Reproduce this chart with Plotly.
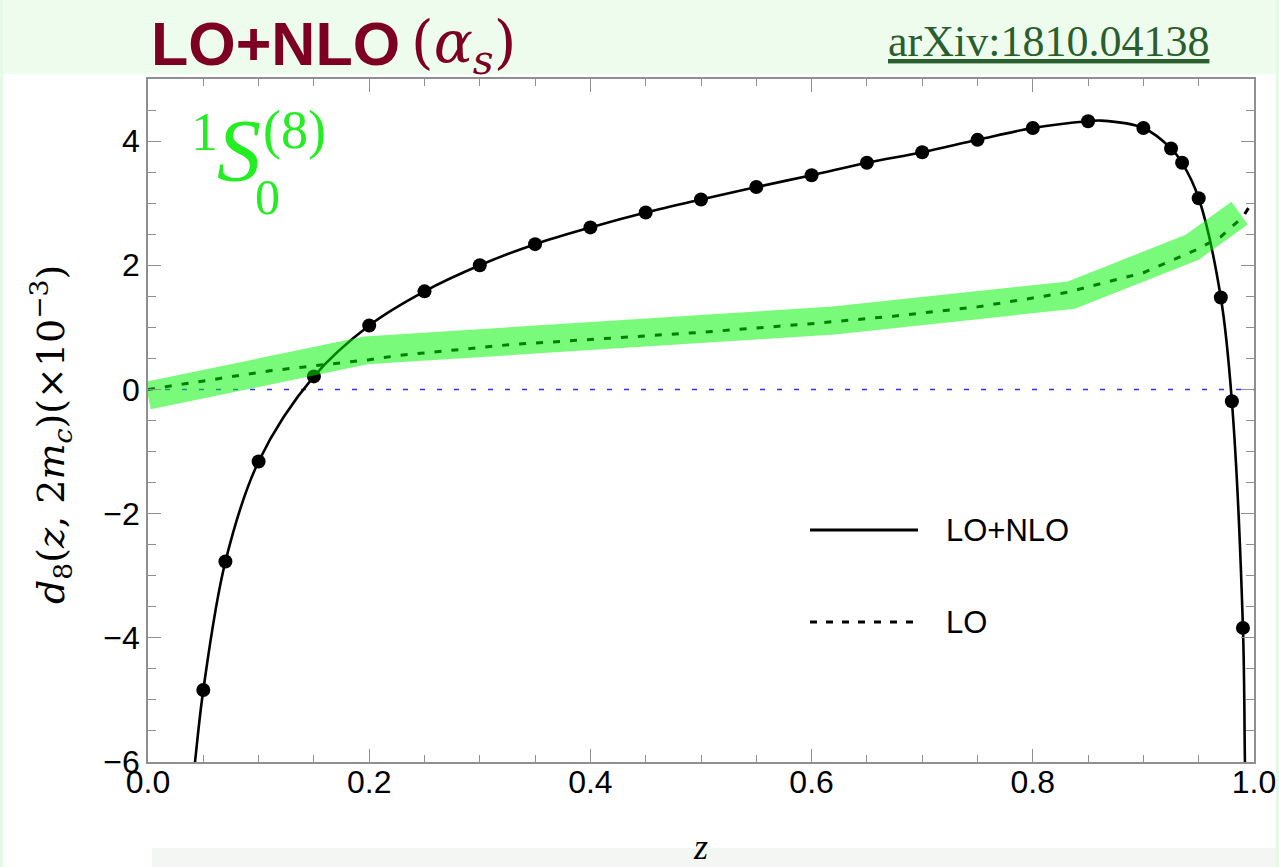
import plotly.graph_objects as go

# ---- data ----
z_nlo = [0.05, 0.07, 0.10, 0.15, 0.20, 0.25, 0.30, 0.35, 0.40, 0.45, 0.50, 0.55,
         0.60, 0.65, 0.70, 0.75, 0.80, 0.85, 0.90, 0.925, 0.935, 0.95, 0.97, 0.98, 0.99]
d_nlo = [-4.84, -2.77, -1.16, 0.21, 1.03, 1.58, 2.00, 2.34, 2.61, 2.85, 3.06, 3.26,
         3.45, 3.65, 3.82, 4.02, 4.21, 4.32, 4.21, 3.88, 3.65, 3.08, 1.48, -0.19, -3.84]

# smooth LO+NLO curve (includes where it leaves the frame)
curve_z = [0.040, 0.0425, 0.05, 0.07, 0.10, 0.15, 0.20, 0.25, 0.30, 0.35, 0.40, 0.45, 0.50,
           0.55, 0.60, 0.65, 0.70, 0.75, 0.80, 0.85, 0.862, 0.90, 0.925, 0.935, 0.95,
           0.97, 0.98, 0.99, 0.9918, 0.9925]
curve_d = [-6.40, -6.00, -4.84, -2.77, -1.16, 0.21, 1.03, 1.58, 2.00, 2.34, 2.61, 2.85, 3.06,
           3.26, 3.45, 3.65, 3.82, 4.02, 4.21, 4.32, 4.33, 4.21, 3.88, 3.65, 3.08,
           1.48, -0.19, -3.84, -6.00, -6.60]

# LO curve (dashed)
z_lo = [0.0, 0.11, 0.20, 0.228, 0.326, 0.40, 0.50, 0.60, 0.674, 0.75, 0.83, 0.90, 0.949, 0.97, 0.99, 0.996]
d_lo = [0.0, 0.30, 0.48, 0.55, 0.72, 0.80, 0.92, 1.06, 1.18, 1.33, 1.56, 1.88, 2.26, 2.46, 2.78, 2.95]

# green highlight band (centre line)
band_z = [0.0, 0.197, 0.62, 0.835, 0.944, 0.987]
band_d = [-0.10, 0.63, 1.11, 1.52, 2.29, 2.84]

# zero reference line
zero_z = [0.0, 1.0]
zero_d = [0.0, 0.0]

x_ticks = [0.0, 0.2, 0.4, 0.6, 0.8, 1.0]
x_ticktext = ["0.0", "0.2", "0.4", "0.6", "0.8", "1.0"]
y_ticks = [-6, -4, -2, 0, 2, 4]
y_ticktext = ["\u22126", "\u22124", "\u22122", "0", "2", "4"]

legend_names = ["LO+NLO", "LO"]

# ---- geometry (pixels) ----
W, H = 1279, 867
L, R, T, B = 148, 1254, 79, 762


def px(xp):
    return (xp - L) / (R - L)


def py(yp):
    return (B - yp) / (B - T)


fig = go.Figure()

fig.add_trace(go.Scatter(x=zero_z, y=zero_d, mode="lines",
                         line=dict(color="rgb(50,50,240)", width=1.6, dash="5px,12px"),
                         showlegend=False, hoverinfo="skip"))
fig.add_trace(go.Scatter(x=z_lo, y=d_lo, mode="lines", name=legend_names[1],
                         line=dict(color="black", width=3, dash="7px,10px"),
                         showlegend=False))
fig.add_trace(go.Scatter(x=curve_z, y=curve_d, mode="lines", name=legend_names[0],
                         line=dict(color="black", width=2.6, shape="spline", smoothing=1.0),
                         showlegend=False))
fig.add_trace(go.Scatter(x=z_nlo, y=d_nlo, mode="markers",
                         marker=dict(color="black", size=14),
                         showlegend=False, hoverinfo="skip"))
fig.add_trace(go.Scatter(x=band_z, y=band_d, mode="lines",
                         line=dict(color="rgba(0,245,0,0.52)", width=28),
                         showlegend=False, hoverinfo="skip"))

gray = "#8f8f8f"
tickfont = dict(family="Liberation Sans, Arial, sans-serif", size=32, color="black")
serif = "Liberation Serif, Times New Roman, DejaVu Serif, serif"

fig.update_xaxes(range=[0, 1], tickvals=x_ticks, ticktext=x_ticktext,
                 ticks="inside", ticklen=13, tickwidth=1, tickcolor=gray,
                 minor=dict(dtick=0.05, ticks="inside", ticklen=7, tickcolor=gray, tickwidth=1),
                 showline=True, linecolor=gray, linewidth=1.5, mirror="allticks",
                 showgrid=False, zeroline=False, tickfont=tickfont, ticklabelstandoff=-9,
                 automargin=False,
                 title=dict(text="<i>z</i>", standoff=36,
                            font=dict(family=serif, size=36, color="black")))
fig.update_yaxes(range=[-6, 5], tickvals=y_ticks, ticktext=y_ticktext,
                 ticks="inside", ticklen=13, tickwidth=1, tickcolor=gray,
                 minor=dict(dtick=0.5, ticks="inside", ticklen=8, tickcolor=gray, tickwidth=1),
                 showline=True, linecolor=gray, linewidth=1.5, mirror="allticks",
                 showgrid=False, zeroline=False, tickfont=tickfont, automargin=False)

shapes = [
    # top light-green banner
    dict(type="rect", xref="paper", yref="paper", x0=px(0), x1=px(W), y0=py(74), y1=py(0),
         fillcolor="#eefcee", line=dict(width=0), layer="below"),
    # bottom faint band
    dict(type="rect", xref="paper", yref="paper", x0=px(152), x1=px(W), y0=py(H), y1=py(848),
         fillcolor="#f3f6f3", line=dict(width=0), layer="below"),
    # thin side strips
    dict(type="rect", xref="paper", yref="paper", x0=px(0), x1=px(3), y0=py(H), y1=py(0),
         fillcolor="#e6f8e6", line=dict(width=0), layer="below"),
    dict(type="rect", xref="paper", yref="paper", x0=px(1276), x1=px(W), y0=py(H), y1=py(0),
         fillcolor="#e6f8e6", line=dict(width=0), layer="below"),
    # legend samples
    dict(type="line", xref="paper", yref="paper", x0=px(810), x1=px(918), y0=py(530), y1=py(530),
         line=dict(color="black", width=3)),
    dict(type="line", xref="paper", yref="paper", x0=px(810), x1=px(918), y0=py(622), y1=py(622),
         line=dict(color="black", width=3, dash="7px,9px")),
]

green = "#22ee22"
annotations = [
    # legend text
    dict(text=legend_names[0], x=px(944), y=py(530), xref="paper", yref="paper",
         xanchor="left", yanchor="middle", showarrow=False,
         font=dict(family="Liberation Sans, Arial, sans-serif", size=31, color="black")),
    dict(text=legend_names[1], x=px(944), y=py(622), xref="paper", yref="paper",
         xanchor="left", yanchor="middle", showarrow=False,
         font=dict(family="Liberation Sans, Arial, sans-serif", size=31, color="black")),
    # title
    dict(text="<b>LO+NLO</b>", x=px(149), y=py(44), xref="paper", yref="paper",
         xanchor="left", yanchor="middle", showarrow=False,
         font=dict(family="Liberation Sans, Arial, sans-serif", size=61, color="#7d0022")),
    dict(text="(<i>\u03b1<sub>s</sub></i>)", x=px(409), y=py(46), xref="paper", yref="paper",
         xanchor="left", yanchor="middle", showarrow=False,
         font=dict(family="DejaVu Serif, serif", size=58, color="#7d0022")),
    dict(text="<u>arXiv:1810.04138</u>", x=px(1048), y=py(42), xref="paper", yref="paper",
         xanchor="center", yanchor="middle", showarrow=False,
         font=dict(family=serif, size=44, color="#2b5e2f")),
    # state label 1S0(8)
    dict(text="1", x=px(204), y=py(132), xref="paper", yref="paper",
         xanchor="center", yanchor="middle", showarrow=False,
         font=dict(family=serif, size=54, color=green)),
    dict(text="<i>S</i>", x=px(239), y=py(150), xref="paper", yref="paper",
         xanchor="center", yanchor="middle", showarrow=False,
         font=dict(family=serif, size=88, color=green)),
    dict(text="(8)", x=px(294), y=py(130), xref="paper", yref="paper",
         xanchor="center", yanchor="middle", showarrow=False,
         font=dict(family=serif, size=54, color=green)),
    dict(text="0", x=px(267), y=py(197), xref="paper", yref="paper",
         xanchor="center", yanchor="middle", showarrow=False,
         font=dict(family=serif, size=50, color=green)),
    # y axis title
    dict(text="<i>d</i><sub>8</sub>(<i>z</i>, 2<i>m</i><sub><i>c</i></sub>)(\u00d710<sup>\u22123</sup>)",
         x=px(50), y=py(435), xref="paper", yref="paper", textangle=-90,
         xanchor="center", yanchor="middle", showarrow=False,
         font=dict(family="DejaVu Serif, serif", size=38, color="black")),
]

fig.update_layout(
    width=W, height=H,
    margin=dict(l=L, r=W - R, t=T, b=H - B, autoexpand=False),
    paper_bgcolor="white", plot_bgcolor="white",
    showlegend=False,
    shapes=shapes, annotations=annotations,
)

fig.write_html("out.html", config={"displayModeBar": False},
               post_script="document.body.style.margin='0px';")
